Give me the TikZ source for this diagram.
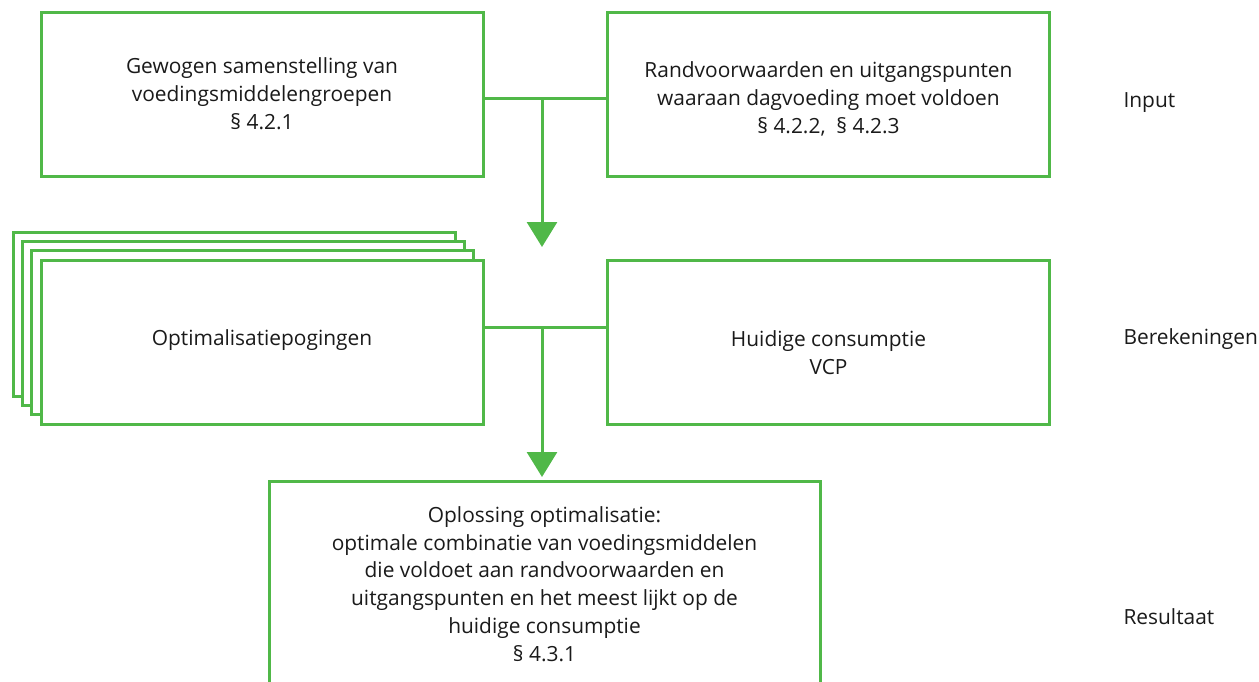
\documentclass[tikz,border=0pt]{standalone}
\usepackage{fontspec}
\setmainfont{Open Sans}
\usetikzlibrary{arrows.meta}
\definecolor{grn}{HTML}{50B848}
\definecolor{txt}{HTML}{1A1A1A}
\begin{document}
\begin{tikzpicture}[x=1pt,y=-1pt,
  box/.style={draw=grn,line width=3pt,fill=white,minimum width=442pt,minimum height=164pt,inner sep=0pt},
  lbl/.style={align=center,text=txt,font=\fontsize{20.9}{27.8}\selectfont},
  conn/.style={draw=grn,line width=3pt},
  arr/.style={conn,-{Triangle[width=30pt,length=25pt]}}]
\useasboundingbox (0,0) rectangle (1259,682);
\clip (0,0) rectangle (1259,682);
% input row
\node[box] (gew) at (262,95) {};
\node[box] (rand) at (828.5,95) {};
\node[lbl] (gewt) at (262,94) {Gewogen samenstelling van\\voedingsmiddelengroepen\\§ 4.2.1};
\node[lbl] (randt) at (828.5,99) {Randvoorwaarden en uitgangspunten\\waaraan dagvoeding moet voldoen\\§ 4.2.2,\ \ § 4.2.3};
% stacked optimisation boxes
\node[box] (opt3) at (234.1,314.1) {};
\node[box] (opt2) at (243.4,323.4) {};
\node[box] (opt1) at (252.7,332.7) {};
\node[box] (opt) at (262,342) {};
\node[lbl] (optt) at (262,340) {Optimalisatiepogingen};
\node[box] (huid) at (828.5,342) {};
\node[lbl] (huidt) at (828.5,353) {Huidige consumptie\\VCP};
% result box
\node[box,minimum width=551pt,minimum height=230pt,anchor=north] (res) at (544.5,480) {};
\node[lbl] (rest) at (544.5,584) {Oplossing optimalisatie:\\optimale combinatie van voedingsmiddelen\\die voldoet aan randvoorwaarden en\\uitgangspunten en het meest lijkt op de\\huidige consumptie\\§ 4.3.1};
% connectors
\coordinate (j1) at (542,99);
\coordinate (t1) at (542,247);
\coordinate (j2) at (542,327);
\coordinate (t2) at (542,477);
\draw[conn] (gew.east |- j1) -- (rand.west |- j1);
\draw[arr] (j1) -- (t1);
\draw[conn] (opt.east |- j2) -- (huid.west |- j2);
\draw[arr] (j2) -- (t2);
% row labels
\node[lbl,anchor=west] (in) at (1120,103) {Input};
\node[lbl,anchor=west] (ber) at (1120,339) {Berekeningen};
\node[lbl,anchor=west] (resl) at (1120,617) {Resultaat};
\end{tikzpicture}
\end{document}
